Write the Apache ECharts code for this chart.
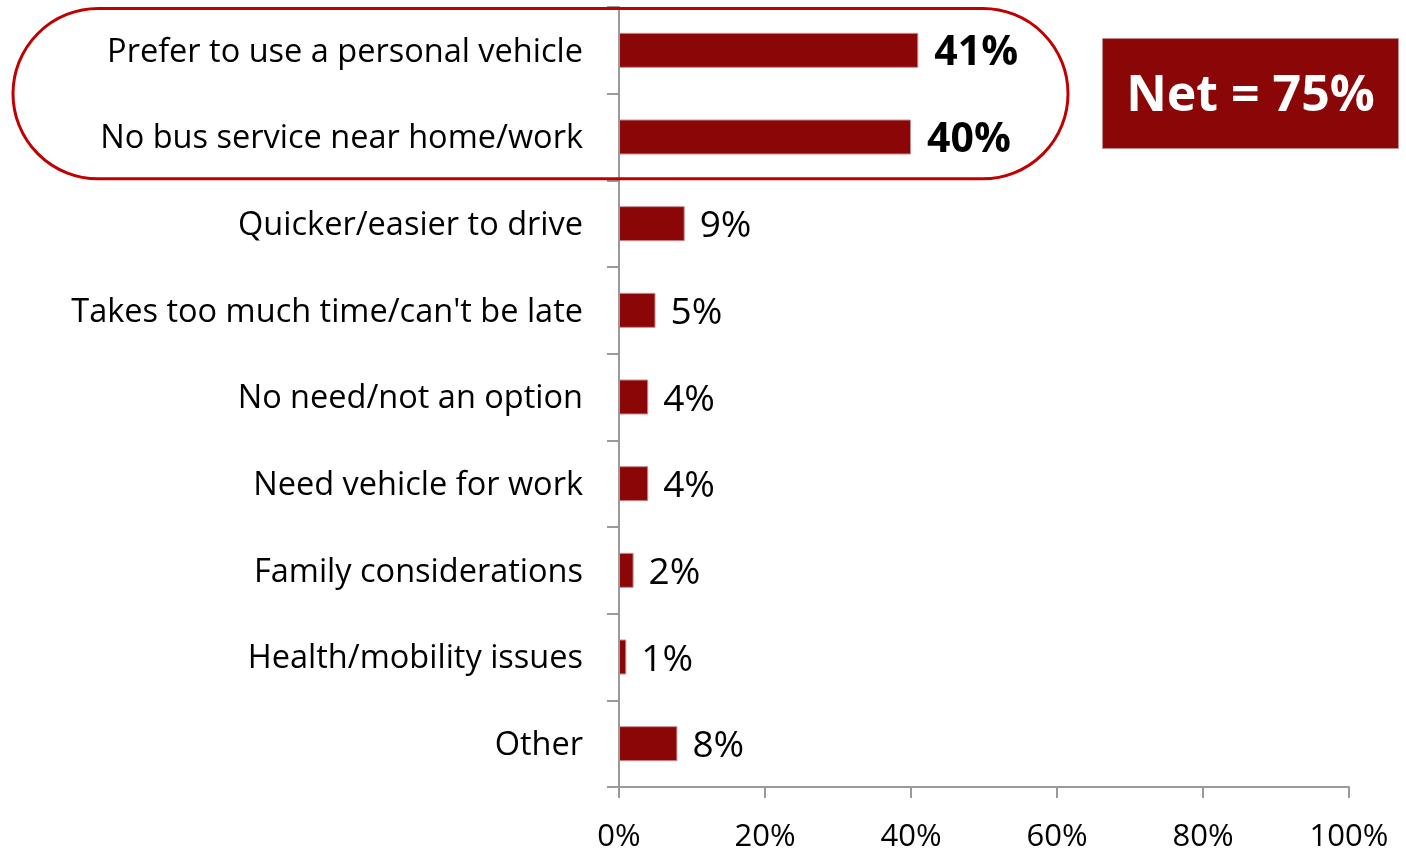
<!DOCTYPE html>
<html>
<head>
<meta charset="utf-8">
<title>Reasons for not using the bus</title>
<script src="https://cdn.jsdelivr.net/npm/echarts@6/dist/echarts.min.js"></script>
<style>
  html, body { margin: 0; padding: 0; background: #fff; }
  #chart { width: 1406px; height: 850px; }
</style>
</head>
<body>
<div id="chart"></div>
<script>
// Reasons, top to bottom
const categories = [
  'Prefer to use a personal vehicle',
  'No bus service near home/work',
  'Quicker/easier to drive',
  "Takes too much time/can't be late",
  'No need/not an option',
  'Need vehicle for work',
  'Family considerations',
  'Health/mobility issues',
  'Other'
];
// Share of respondents (%)
const values = [41, 40, 9, 5, 4, 4, 2, 1, 8];
// Reasons grouped into the net figure (drawn bold)
const netGroup = [0, 1];
const netValue = 75;
// Percentage axis ticks
const axisMax = 100;
const axisStep = 20;

const FONT = '"Open Sans", "Noto Sans", sans-serif';
const BAR = '#8B0606';

const chart = echarts.init(document.getElementById('chart'), null, { renderer: 'canvas' });

const seriesData = values.map((v, i) => {
  const bold = netGroup.includes(i);
  return {
    value: v,
    label: bold
      ? { fontWeight: 'bold', fontSize: 41, distance: 16 }
      : { fontWeight: 'normal', fontSize: 37, distance: 15 }
  };
});

chart.setOption({
  animation: false,
  grid: { left: 619, right: 57, top: 7, bottom: 63, containLabel: false, outerBoundsMode: 'none' },
  xAxis: {
    type: 'value',
    min: 0,
    max: axisMax,
    interval: axisStep,
    splitLine: { show: false },
    axisLine: { show: true, lineStyle: { color: '#9A9A9A', width: 2 } },
    axisTick: { show: true, length: 11, lineStyle: { color: '#9A9A9A', width: 2 } },
    axisLabel: {
      formatter: '{value}%',
      fontFamily: FONT,
      fontSize: 31,
      color: '#000',
      margin: 35
    }
  },
  yAxis: {
    type: 'category',
    data: categories,
    inverse: true,
    axisLine: { show: true, lineStyle: { color: '#9A9A9A', width: 2 } },
    axisTick: { show: true, length: 12, lineStyle: { color: '#9A9A9A', width: 2 } },
    axisLabel: {
      fontFamily: FONT,
      fontSize: 32.5,
      color: '#000',
      margin: 36,
      formatter: (v) => '{c|' + v + '}',
      rich: { c: { fontFamily: FONT, fontSize: 32.5, color: '#000', padding: [4, 0, 0, 0] } }
    }
  },
  series: [{
    type: 'bar',
    data: seriesData,
    barWidth: 35,
    itemStyle: { color: BAR, borderColor: '#C98C8C', borderWidth: 1 },
    label: {
      show: true,
      position: 'right',
      formatter: '{c}%',
      fontFamily: FONT,
      color: '#000',
      offset: [0, 3]
    }
  }]
});

// Outline around the grouped reasons and the net box
function drawAnnotations() {
  const top = chart.convertToPixel({ yAxisIndex: 0 }, categories[netGroup[0]]);
  const bottom = chart.convertToPixel({ yAxisIndex: 0 }, categories[netGroup[netGroup.length - 1]]);
  const band = bottom - top;
  const y0 = top - band / 2 + 1.5;
  const y1 = bottom + band / 2 - 1.5;
  const h = y1 - y0;
  chart.setOption({
    graphic: [
      {
        type: 'rect',
        shape: { x: 13, y: y0, width: 1055, height: h, r: h / 2 },
        style: { fill: 'none', stroke: '#C00000', lineWidth: 3 },
        z: 10
      },
      {
        type: 'group',
        left: 1102,
        top: 38,
        children: [
          {
            type: 'rect',
            shape: { x: 0, y: 0, width: 296, height: 110 },
            style: { fill: BAR, stroke: '#C98C8C', lineWidth: 1 }
          },
          {
            type: 'text',
            x: 148,
            y: 58,
            style: {
              text: 'Net = ' + netValue + '%',
              fill: '#fff',
              font: 'bold 50px ' + FONT,
              align: 'center',
              verticalAlign: 'middle'
            }
          }
        ]
      }
    ]
  });
}
drawAnnotations();
</script>
</body>
</html>
